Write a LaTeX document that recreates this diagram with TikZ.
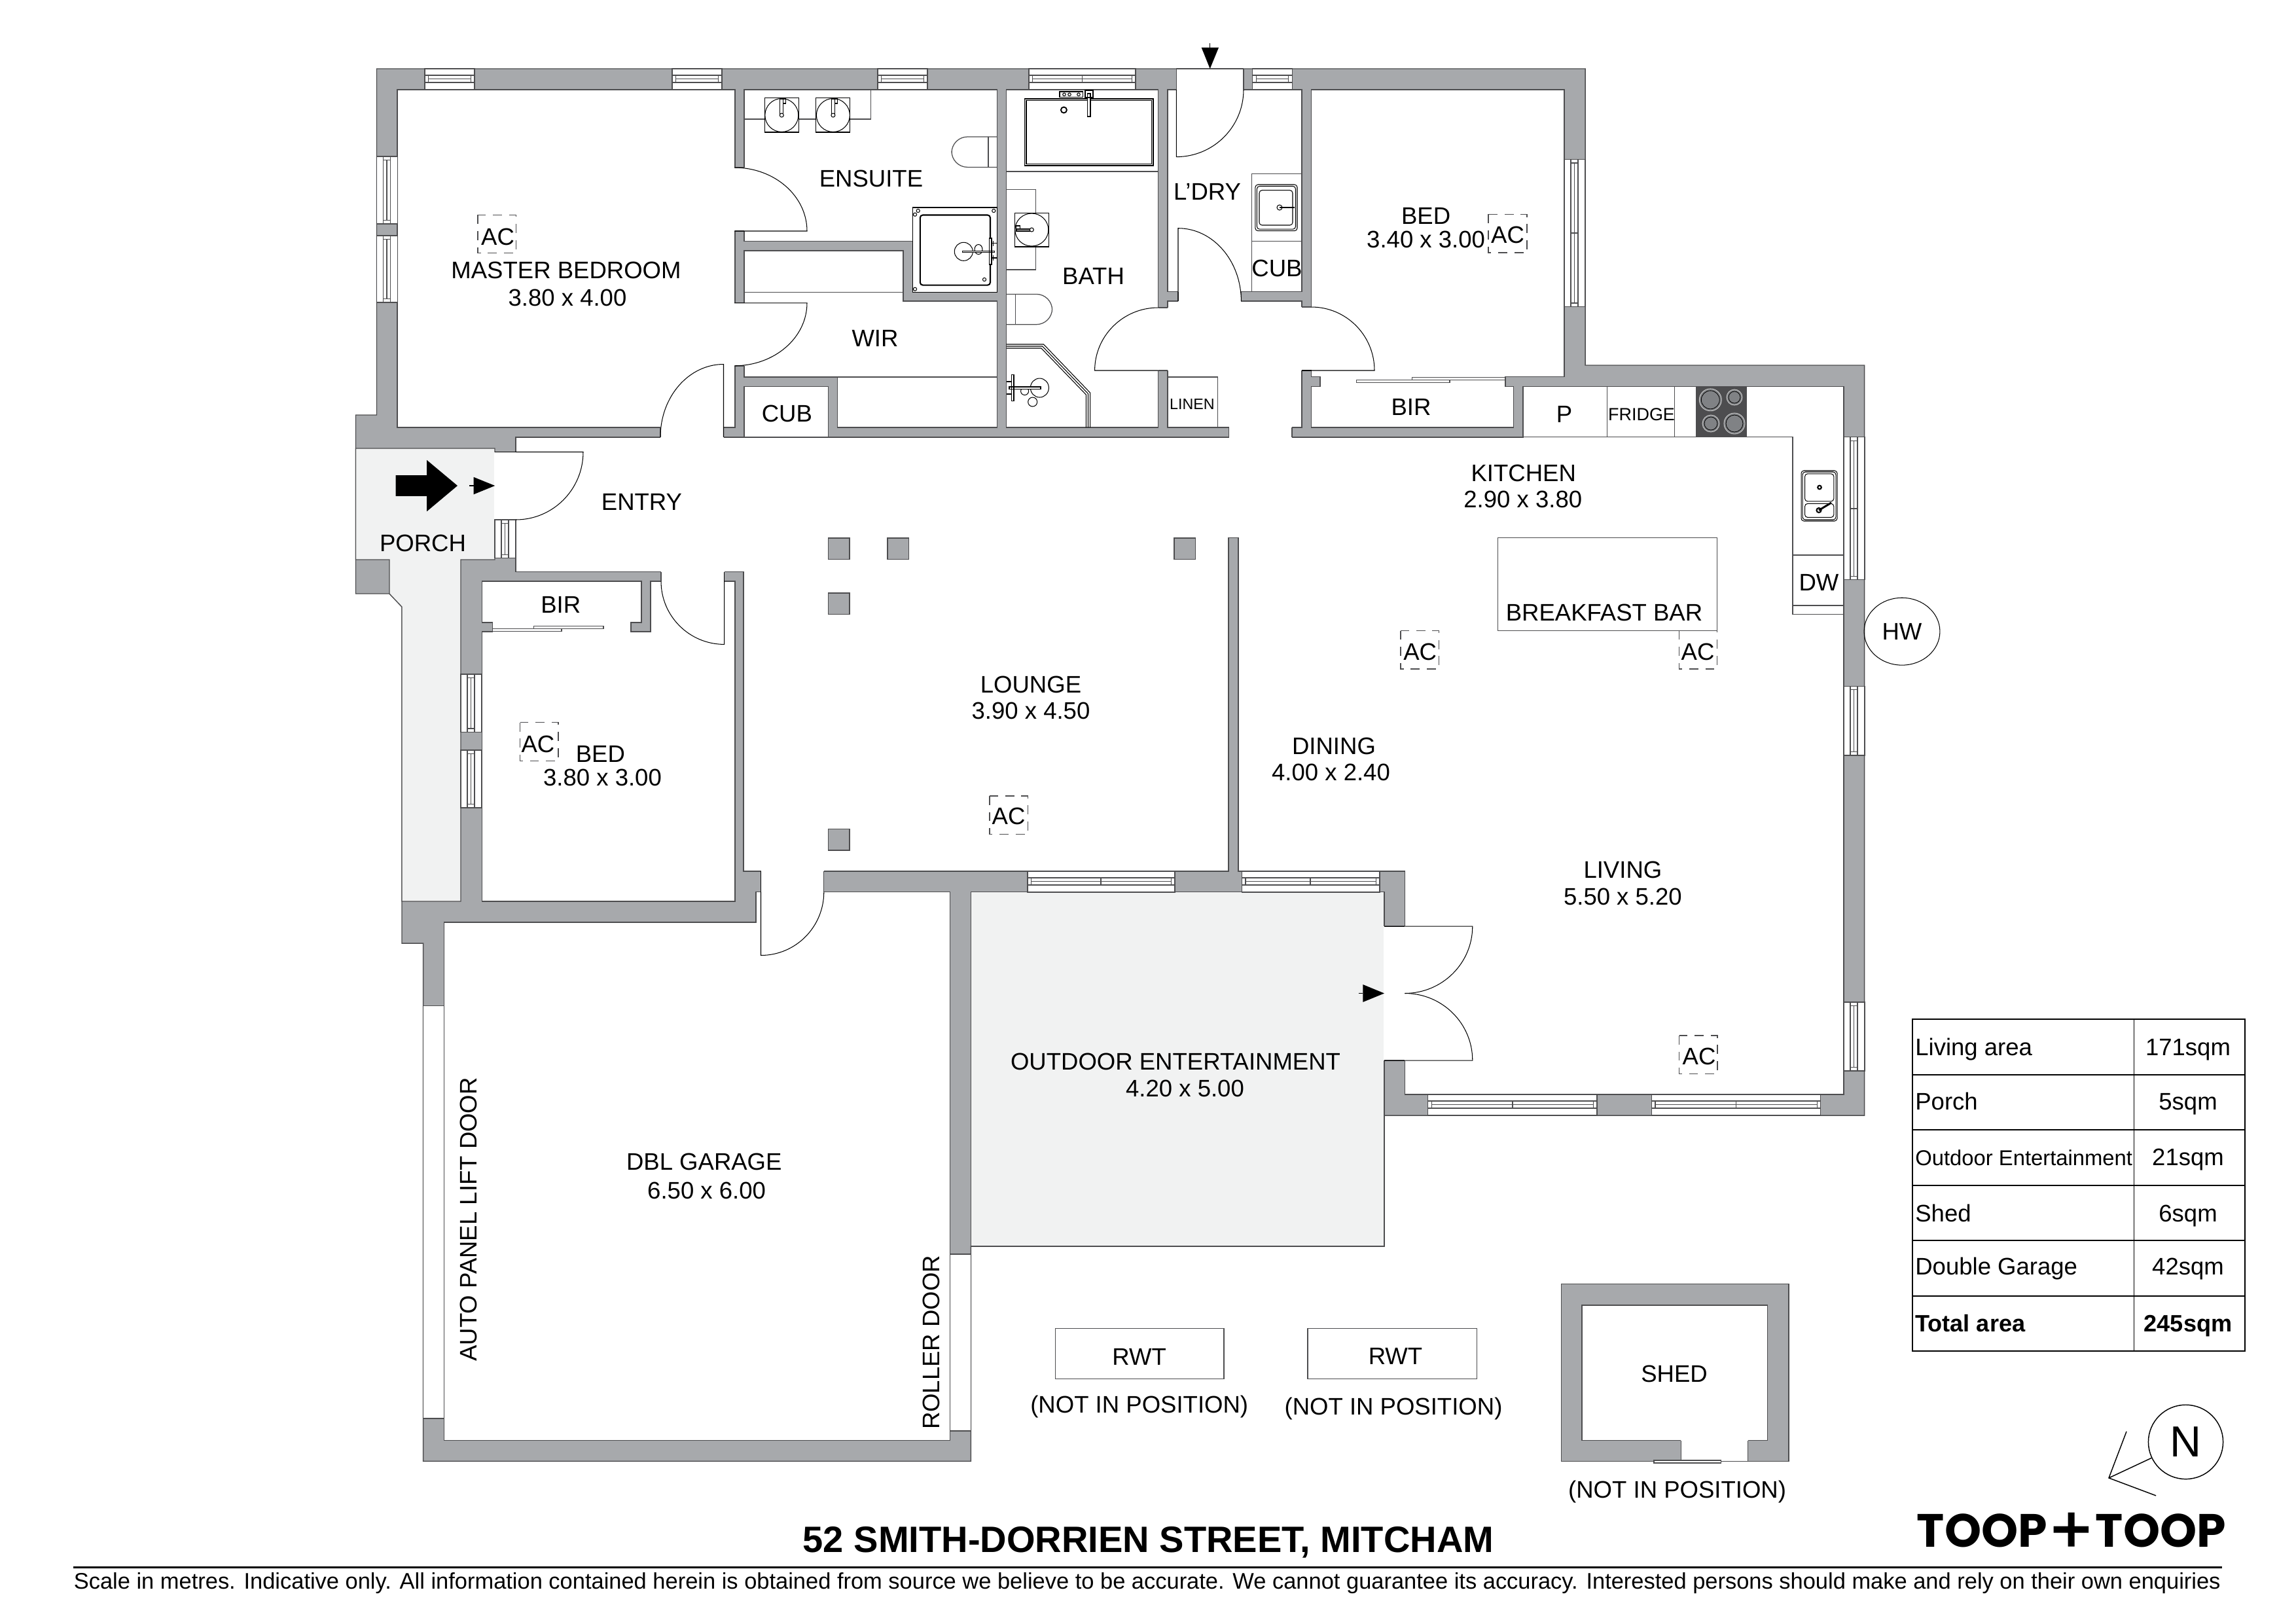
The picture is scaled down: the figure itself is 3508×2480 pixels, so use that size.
\documentclass[tikz,border=0pt]{standalone}
\usepackage{fontspec}
\setmainfont{Liberation Sans}
\newfontfamily\logofont{Poppins}
\usetikzlibrary{shapes.geometric}
\definecolor{wallgrey}{HTML}{A7A9AC}
\definecolor{edgegrey}{HTML}{4D4D4F}
\definecolor{pavegrey}{HTML}{F1F2F2}
\definecolor{ringgrey}{HTML}{808285}

\begin{document}
\begin{tikzpicture}
[x=.24bp,y=-.24bp,every node/.style={inner sep=0pt,yshift=-.45bp,font=\fontsize{8.8}{10}\selectfont},
wall/.style={fill=wallgrey,draw=edgegrey,line width=.35bp},
room/.style={fill=white,draw=edgegrey,line width=.35bp},
pave/.style={fill=pavegrey,draw=edgegrey,line width=.3bp},
thin line/.style={draw=edgegrey,line width=.3bp},
fixture/.style={draw=black,line width=.25bp},
door/.style={draw=black,line width=.25bp},
ac box/.style={draw=edgegrey,line width=.3bp,dash pattern=on 3.3bp off 2.6bp},
grid line/.style={draw=black,line width=.45bp}]
\useasboundingbox (0,0) rectangle (3508,2480);
% walls
\draw[wall] (575.5,105) -- (2422,105) -- (2422,558) -- (2848.5,558) -- (2848.5,1704) -- (2115,1704) -- (2115,1904) -- (1483.3,1904) -- (1483.3,2232.4) -- (646.6,2232.4) -- (646.6,1441) -- (614,1441) -- (614,927) -- (595,907) -- (543.5,907) -- (543.5,634) -- (575.5,634) -- cycle;
\draw[wall] (2385.6,1961.4) rectangle (2733,2232.4);
% floors
\draw[room] (607,137) rectangle (1123,653);
\draw[room] (1137,137) rectangle (1523.7,368.7);
\draw[room] (1137,382.8) -- (1380,382.8) -- (1380,460) -- (1523.7,460) -- (1523.7,653) -- (1279.6,653) -- (1279.6,576) -- (1137,576) -- cycle;
\draw[room] (1137,590.6) rectangle (1265.6,667.5);
\draw[room] (1537.5,137) rectangle (1769.6,653);
\draw[room] (1784,137) -- (1989,137) -- (1989,445.7) -- (1784,445.7) -- cycle;
\draw[room] (1784,460) rectangle (1989,653);
\draw[room] (2003.6,137) -- (2390,137) -- (2390,575.7) -- (2300,575.7) -- (2300,590.5) -- (2312.7,590.5) -- (2312.7,653) -- (2003.6,653) -- (2003.6,590.5) -- (2017,590.5) -- (2017,575.7) -- (2003.6,575.7) -- cycle;
\draw[room] (788,667.8) -- (2327,667.8) -- (2327,590.3) -- (2817,590.3) -- (2817,1672) -- (2146.4,1672) -- (2146.4,1331) -- (1892,1331) -- (1892,821.7) -- (1877,821.7) -- (1877,1331) -- (1136,1331) -- (1136,873.7) -- (788,873.7) -- cycle;
\draw[room] (736.3,888) -- (980,888) -- (980,951) -- (964,951) -- (964,965) -- (994,965) -- (994,888) -- (1123,888) -- (1123,1377) -- (736.3,1377) -- (736.3,965) -- (752.6,965) -- (752.6,951) -- (736.3,951) -- cycle;
\draw[room] (678.4,1409) -- (1155,1409) -- (1155,1362.5) -- (1451.4,1362.5) -- (1451.4,2200.5) -- (678.4,2200.5) -- cycle;
\draw[room] (2417,1994) rectangle (2700.5,2200.5);
\draw[room] (646.6,1536.6) rectangle (678.4,2167);
\draw[room] (1451.4,1916) rectangle (1483.3,2186);
\draw[pave] (543.5,685) -- (756,685) -- (756,855) -- (704,855) -- (704,1377) -- (614,1377) -- (614,927) -- (595,907) -- (595,855) -- (543.5,855) -- cycle;
\draw[pave] (1483.3,1362.5) rectangle (2115,1904);
% openings through walls
\foreach \xa/\xb/\ya/\yb in {1123/1137/256/353,1123/1137/462.8/559,1769.6/1784/470/566,1989/2003.6/469/566,756/788/690.5/794,2115/2146.4/1415/1620}
{\fill[white] (\xa-1,\ya) rectangle (\xb+1,\yb);
\draw[thin line] (\xa,\ya) -- (\xb,\ya) (\xa,\yb) -- (\xb,\yb);}
\foreach \xa/\xb/\ya/\yb in {1009/1105.5/653/667.8,1800/1896.4/445.7/460,1010/1106.7/873.7/888,1877.7/1974/653/667.8,1162.5/1258.8/1331/1362.5,1797.3/1900/105/137,2568.4/2670.8/2200.5/2232.4}
{\fill[white] (\xa,\ya-1) rectangle (\xb,\yb+1);
\draw[thin line] (\xa,\ya) -- (\xa,\yb) (\xb,\ya) -- (\xb,\yb);}
\draw[thin line] (1797.3,105) -- (1900,105) (2568.4,2232.4) -- (2670.8,2232.4);
% windows
\foreach \xa/\xb/\ya in {649/725/105,1027/1103/105,1341/1417/105,1572/1735/105,1913.7/1974.3/105,2181.8/2440/1672,2523.4/2781.8/1672,1570/1795/1331,1897.6/2108/1331}
{\draw[room,line width=.3bp] (\xa,\ya) rectangle (\xb,\ya+32);
\draw[thin line] (\xa,\ya+10) -- (\xb,\ya+10) (\xa,\ya+21) -- (\xb,\ya+21) (\xa+5.5,\ya+15.5) -- (\xb-5.5,\ya+15.5) (\xa+5.5,\ya+10) -- (\xa+5.5,\ya+21) (\xb-5.5,\ya+10) -- (\xb-5.5,\ya+21);}
\foreach \xa/\ya in {1653.5/105,2311/1672,2652.6/1672,1682/1331,2002/1331}
\draw[thin line] (\xa,\ya+10) -- (\xa,\ya+21);
\foreach \xa/\ya/\yb in {575.5/239/342,575.5/360/462,2390/243.6/468.6,2817/667.7/885.8,2817/1048.3/1154,2817/1531/1636,704/1030/1118.6,704/1146/1234,756/794/852.8}
{\draw[room,line width=.3bp] (\xa,\ya) rectangle (\xa+32,\yb);
\draw[thin line] (\xa+10,\ya) -- (\xa+10,\yb) (\xa+21,\ya) -- (\xa+21,\yb) (\xa+15.5,\ya+5.5) -- (\xa+15.5,\yb-5.5) (\xa+10,\ya+5.5) -- (\xa+21,\ya+5.5) (\xa+10,\yb-5.5) -- (\xa+21,\yb-5.5);}
\foreach \xa/\ya in {2390/356,2817/777}
\draw[thin line] (\xa+10,\ya) -- (\xa+21,\ya);
% doors
\foreach \cx/\cy/\rx/\ry/\sa/\da in {1122/353/111/97/0/-90,1122/462.8/111/96/0/90,1105.5/667.5/96.5/111/270/-90,1769.6/566/97/96/180/90,1800/460/96.4/111.3/270/90,1797.3/137/102.7/102.6/90/-90,2003.6/566/96.4/97/0/-90,788/690.5/103/103.5/0/90,1106.7/888/96.7/96.4/90/90,1162.5/1362.5/96.3/97/90/-90,2146.4/1415/103.4/102.5/0/90,2146.4/1620/103.4/102.5/0/-90}
\draw[door] (\cx,\cy) -- ++({\sa}:{\rx} and {\ry}) arc[start angle=\sa,delta angle=\da,x radius=\rx,y radius=\ry];
\draw[door] (756,690.5) -- (788,690.5) (1106.7,873.7) -- (1106.7,888) (1162.5,1331) -- (1162.5,1362.5) (2115,1415) -- (2146.4,1415) (2115,1620) -- (2146.4,1620) (1989,566) -- (2003.6,566);
% columns
\foreach \xa/\ya in {1265.4/822,1356/822,1793.8/822,1265.4/906,1265.4/1266.5}
\draw[wall] (\xa,\ya) rectangle (\xa+32.5,\ya+32.5);
% fittings
\draw[thin line] (1137,182) -- (1330.4,182) -- (1330.4,137);
\draw[thin line] (1137,446.7) -- (1380,446.7) (1279.6,576) -- (1523.7,576) (1537.5,262) -- (1769.6,262);
\draw[thin line] (1537.5,289.4) -- (1582.6,289.4) -- (1582.6,412) -- (1537.5,412);
\draw[thin line] (1784,576) -- (1860.7,576) -- (1860.7,653);
\draw[thin line] (1912.5,445.7) -- (1912.5,265.4) -- (1989,265.4) (1912.5,368.7) -- (1989,368.7);
\draw[thin line] (2455.8,590.3) -- (2455.8,667.7) (2558.8,590.3) -- (2558.8,667.7);
\draw[thin line] (2327,667.7) -- (2739,667.7) -- (2739,938.4) -- (2817,938.4) (2739,848) -- (2817,848) (2739,925) -- (2817,925);
\draw[thin line] (2288.5,821.6) rectangle (2623.6,963.7);
\foreach \xa in {1168.3,1246.9}
{\draw[fixture,fill=white] (\xa,149.4) rectangle (\xa+52,202);
\draw[fixture] (\xa+26,176) ellipse [x radius=25.5,y radius=25.5];
\draw[fixture] (\xa+23.5,151) rectangle (\xa+28.5,176) (\xa+28.5,151) rectangle (\xa+32.5,158);
\draw[fixture,fill=white] (\xa+26,176) circle [radius=3];}
% ensuite shower and toilets
\draw[fixture,fill=white] (1394.6,317) rectangle (1523.7,446.7);
\draw[fixture,line width=.5bp,rounded corners=1bp] (1405.8,328.5) rectangle (1513,435.6);
\foreach \xa/\ya in {1402.7/322,1518.3/322,1398/327.7,1398/441.7,1504/427}
\draw[fixture] (\xa,\ya) circle [radius=2.6];
\draw[fixture] (1472.3,384.3) ellipse [x radius=14,y radius=14] (1495,381) ellipse [x radius=6,y radius=7.5];
\draw[fixture,fill=white] (1470.5,383.2) rectangle (1519.6,385.5) (1511.6,364) rectangle (1515,404);
\draw[fixture] (1515,371.7) -- (1523,371.7) (1515,394) -- (1523,394) (1517.4,368) -- (1517.4,376) (1517.4,390) -- (1517.4,398);
\draw[thin line,rounded corners=5.8bp] (1523.7,209) -- (1454,209) -- (1454,255.4) -- (1523.7,255.4);
\draw[thin line] (1510,209) -- (1510,255.4);
\draw[thin line,rounded corners=5.8bp] (1537.5,449.4) -- (1607.6,449.4) -- (1607.6,495.7) -- (1537.5,495.7);
\draw[thin line] (1551.3,449.4) -- (1551.3,495.7);
% bath
\draw[fixture] (1565.6,151) rectangle (1762,253) (1568,153.5) rectangle (1759.5,250.5);
\draw[fixture,line width=.45bp] (1625.4,168) circle [radius=4.5];
\draw[fixture,fill=white] (1619,140) rectangle (1654.5,148.6) (1658,138) rectangle (1670,149) (1661.6,143) rectangle (1666,178);
\foreach \xa in {1626,1634,1648}
\draw[fixture] (\xa,144.3) circle [radius=2.3];
\draw[fixture,fill=white] (1550.4,325.4) rectangle (1602.7,377);
\draw[fixture] (1576.3,351) ellipse [x radius=25.5,y radius=25];
\draw[fixture] (1553,350) rectangle (1576,353) (1552.5,345) rectangle (1558.5,350);
\draw[fixture,fill=white] (1576.3,351) circle [radius=3];
\draw[fixture] (1537.5,526) -- (1594.5,526) -- (1665.6,600) -- (1665.6,653) (1537.5,532) -- (1591,532) -- (1659.4,603) -- (1659.4,653) (1537.5,529) -- (1592.7,529) -- (1662.5,601.5) -- (1662.5,653);
\draw[fixture] (1588.4,592.5) ellipse [x radius=14,y radius=14.5] (1577.7,614) circle [radius=7] (1565.6,597.5) circle [radius=6];
\draw[fixture,fill=white] (1542,591) rectangle (1590,594.5) (1545.5,572.6) rectangle (1549,612.8);
\draw[fixture] (1538.4,583) -- (1545.5,583) (1538.4,602) -- (1545.5,602);
% laundry sink
\draw[fixture,rounded corners=1bp] (1917.9,282) rectangle (1982,352.7) (1920.4,284.5) rectangle (1979.5,350.2) (1924,290.7) rectangle (1975,344);
\draw[fixture] (1955,317) circle [radius=4];
\draw[fixture,line width=.5bp] (1955,317) -- (1978,317);
% sliding doors
\foreach \xa/\ya/\xb/\yb in {2072.7/580.7/2215/584.5,2157.6/576.8/2300/580.7,752.6/960.4/858/964.5,815.4/956.3/922/960.4,2527/2231/2629.7/2235}
\draw[thin line,fill=white] (\xa,\ya) rectangle (\xb,\yb);
% cooktop
\fill[edgegrey] (2591,590.3) rectangle (2668.5,667.7);
\foreach \xa/\ya/\rr in {2613.3/610.8/17,2650/607/12,2614/647/13,2650/647/16}
{\draw[white!80!black,fill=ringgrey,line width=.2bp] (\xa,\ya) circle [radius=\rr];
\draw[black,line width=.2bp] (\xa,\ya) circle [radius=\rr-3];}
% kitchen sink
\draw[fixture,rounded corners=1bp] (2752,719) rectangle (2807,796) (2754,721) rectangle (2805,794) (2757.6,723.8) rectangle (2801.8,765.9) (2757.6,769.4) rectangle (2801.8,790.4);
\draw[fixture,line width=.5bp] (2780,744.5) circle [radius=2.8] (2779,779.5) circle [radius=3.5];
\draw[fixture,line width=.7bp] (2779,779.5) -- (2798,768);
% air conditioning
\foreach \xa/\ya/\xb/\yb in {730/328.4/788.5/386.7,2274/327.4/2333/386,794.5/1103.8/853/1162.4,1512/1216/1570.5/1274.6,2140/963.7/2198.8/1022,2565.5/963.7/2623.6/1022,2565.5/1582/2624/1640.6}
\draw[ac box] (\xa,\ya) rectangle (\xb,\yb);
% entry arrows
\fill (604.7,726.2) -- (652.1,726.2) -- (652.1,702.8) -- (699,742) -- (652.1,781.3) -- (652.1,757.9) -- (604.7,757.9) -- cycle;
\fill (723.6,728.8) -- (756.2,742) -- (723.6,755.3) -- cycle;
\fill (1835.7,72.7) -- (1862,72.7) -- (1848.7,105) -- cycle;
\fill (2082.3,1504) -- (2115,1517.5) -- (2082.3,1530.9) -- cycle;
\draw[door] (717,742) -- (723.6,742) (1848.7,66) -- (1848.7,72.7) (2075.6,1517.5) -- (2082.3,1517.5);
% rain water tanks
\draw[thin line] (1612.4,2029.6) rectangle (1869.9,2106.8) (1998,2029.6) rectangle (2256.5,2106.8);
% labels
\node (acmaster) at (760.5,360) {AC};
\node (master) at (865,411.5) {MASTER BEDROOM};
\node (mastersize) at (867,453) {3.80 x 4.00};
\node (ensuite) at (1331,271.5) {ENSUITE};
\node (wir) at (1337,515) {WIR};
\node (cub) at (1202.4,630) {CUB};
\node (entry) at (980.5,765.5) {ENTRY};
\node (bath) at (1670.5,420) {BATH};
\node (ldry) at (1844.6,291) {L’DRY};
\node (cubldry) at (1951,408) {CUB};
\node (bedb) at (2178.6,328) {BED};
\node (bedbsize) at (2178.6,364) {3.40 x 3.00};
\node (acbed) at (2303.6,357) {AC};
\node[font=\fontsize{5.6}{7}\selectfont] (linen) at (1821.4,615.6) {LINEN};
\node (bir) at (2156,619.6) {BIR};
\node (pantry) at (2390,631) {P};
\node[font=\fontsize{6.5}{8}\selectfont] (fridge) at (2508,631) {FRIDGE};
\node (kitchen) at (2327.7,721) {KITCHEN};
\node (kitchensize) at (2326.8,761.4) {2.90 x 3.80};
\node (bar) at (2451,933.6) {BREAKFAST BAR};
\node (dw) at (2779,887.6) {DW};
\node (acdining) at (2169.7,994) {AC};
\node (acbar) at (2594,994) {AC};
\node[draw=black,line width=.25bp,ellipse,minimum width=27.8bp,minimum height=24.7bp] (hw) at (2906,962.8) {HW};
\node (porch) at (646,827.8) {PORCH};
\node (birb) at (856.7,921.6) {BIR};
\node (acbedc) at (822,1135) {AC};
\node (bedc) at (917.4,1150) {BED};
\node (bedcsize) at (920.5,1186) {3.80 x 3.00};
\node (lounge) at (1575,1044) {LOUNGE};
\node (loungesize) at (1575,1084.5) {3.90 x 4.50};
\node (aclounge) at (1541,1245.5) {AC};
\node (dining) at (2038,1138) {DINING};
\node (diningsize) at (2033.5,1178) {4.00 x 2.40};
\node (living) at (2479.4,1327.4) {LIVING};
\node (livingsize) at (2479.4,1367.6) {5.50 x 5.20};
\node (acliving) at (2596,1612) {AC};
\node (outdoor) at (1796,1620) {OUTDOOR ENTERTAINMENT};
\node (outdoorsize) at (1810.5,1661) {4.20 x 5.00};
\node (garage) at (1075.8,1773) {DBL GARAGE};
\node (garagesize) at (1079.6,1817) {6.50 x 6.00};
\node[rotate=90] (lift) at (716,1861) {AUTO PANEL LIFT DOOR};
\node[rotate=90] (roller) at (1423,2049) {ROLLER DOOR};
\node (rwta) at (1740.7,2071) {RWT};
\node (rwtb) at (2132,2069.8) {RWT};
\node (nipa) at (1740.7,2147.6) {(NOT IN POSITION)};
\node (nipb) at (2129,2150) {(NOT IN POSITION)};
\node (shed) at (2558,2097) {SHED};
\node (nipc) at (2562.6,2277) {(NOT IN POSITION)};
% areas
\draw[grid line] (2921.9,1556.9) rectangle (3429.8,2064.4);
\draw[grid line] (3260.5,1556.9) -- (3260.5,2064.4);
\foreach \ya in {1641.9,1726,1810.6,1895,1980}
\draw[grid line] (2921.9,\ya) -- (3429.8,\ya);
\node[anchor=base west] (arealiving) at (2925.5,1610.5) {Living area};
\node[anchor=base west] (areaporch) at (2925.5,1693.6) {Porch};
\node[anchor=base west,font=\fontsize{7.9}{9}\selectfont] (areaoutdoor) at (2925.5,1778.6) {Outdoor Entertainment};
\node[anchor=base west] (areashed) at (2925.5,1865) {Shed};
\node[anchor=base west] (areagarage) at (2925.5,1945.5) {Double Garage};
\node[anchor=base west,font=\fontsize{8.7}{10}\selectfont\bfseries] (areatotal) at (2925.5,2033) {Total area};
\node[anchor=base] (sqmliving) at (3343,1610.5) {171sqm};
\node[anchor=base] (sqmporch) at (3343,1693.6) {5sqm};
\node[anchor=base] (sqmoutdoor) at (3343,1778.6) {21sqm};
\node[anchor=base] (sqmshed) at (3343,1865) {6sqm};
\node[anchor=base] (sqmgarage) at (3343,1945.5) {42sqm};
\node[anchor=base,font=\fontsize{8.7}{10}\selectfont\bfseries] (sqmtotal) at (3343,2033) {245sqm};
% compass
\node[draw=black,line width=.35bp,ellipse,minimum width=27.4bp,minimum height=27.2bp,font=\fontsize{16}{18}\selectfont] (north) at (3339.5,2201) {N};
\coordinate (tip) at (3222,2256);
\coordinate (barbup) at (3249,2185);
\coordinate (barbdown) at (3294,2283);
\draw[line width=.35bp] (barbup) -- (tip) -- (barbdown) (tip) -- (north);
% title block
\node[anchor=west,font=\fontsize{13.5}{15}\selectfont\bfseries] (title) at (1226,2354) {52 SMITH-DORRIEN STREET, MITCHAM};
\coordinate (rulestart) at (112,2392.5);
\coordinate (ruleend) at (3395,2392.5);
\draw[line width=.7bp] (rulestart) -- (ruleend);
\node[anchor=west,font=\fontsize{8.3}{10}\selectfont] (disclaimer) at (112,2417) {Scale in metres. Indicative only. All information contained herein is obtained from source we believe to be accurate. We cannot guarantee its accuracy. Interested persons should make and rely on their own enquiries};
\node[anchor=west,font=\fontsize{17.2}{19}\logofont\bfseries] (toopa) at (2928,2336) {TOOP};
\node[anchor=west,font=\fontsize{17.2}{19}\logofont\bfseries] (toopb) at (3201,2336) {TOOP};
\fill (3137.7,2331.5) rectangle (3191,2341.5) (3159.5,2310.6) rectangle (3169.5,2362.5);
\end{tikzpicture}
\end{document}
